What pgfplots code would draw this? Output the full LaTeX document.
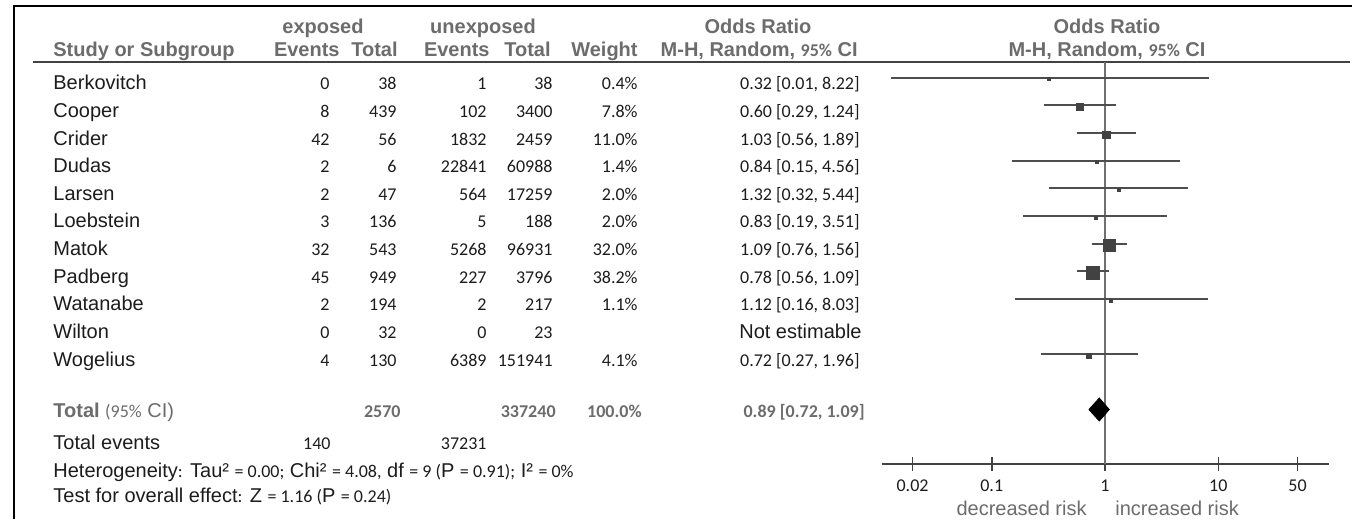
\documentclass[border=0pt]{standalone}
\usepackage{pgfplots}
\pgfplotsset{compat=1.18}
\usepackage{pgfplotstable}
\usepackage{fontspec}
\setmainfont{Liberation Sans}
\newfontfamily\carl{Carlito}

\definecolor{hdr}{RGB}{108,108,108}
\definecolor{txt}{RGB}{28,28,28}
\definecolor{ink}{RGB}{66,66,66}
\definecolor{cil}{RGB}{78,78,78}
\definecolor{refline}{RGB}{112,112,112}

\newcommand\fname{\fontsize{10}{12}\selectfont}
\newcommand\fhead{\bfseries\fontsize{10}{12}\selectfont}
\newcommand\fnum{\carl\fontsize{9}{11}\selectfont}
\newcommand\fsmall{\carl\fontsize{9}{10}\selectfont}
\newcommand\fticks{\carl\fontsize{9}{10}\selectfont}

\pgfkeys{/pgf/number format/assume math mode=true}

% per-study counts, weight (%) and odds ratio with its 95% CI;
% est=0: no estimate (no events in either arm)
\pgfplotstableread{
pos study      e1  n1   e2    n2     w     or    lo    hi    est
0   Berkovitch 0   38   1     38     0.4   0.32  0.01  8.22  1
1   Cooper     8   439  102   3400   7.8   0.60  0.29  1.24  1
2   Crider     42  56   1832  2459   11.0  1.03  0.56  1.89  1
3   Dudas      2   6    22841 60988  1.4   0.84  0.15  4.56  1
4   Larsen     2   47   564   17259  2.0   1.32  0.32  5.44  1
5   Loebstein  3   136  5     188    2.0   0.83  0.19  3.51  1
6   Matok      32  543  5268  96931  32.0  1.09  0.76  1.56  1
7   Padberg    45  949  227   3796   38.2  0.78  0.56  1.09  1
8   Watanabe   2   194  2     217    1.1   1.12  0.16  8.03  1
9   Wilton     0   32   0     23     0     nan   nan   nan   0
10  Wogelius   4   130  6389  151941 4.1   0.72  0.27  1.96  1
}\studies

% pooled random-effects result
\pgfplotstableread{
e1  n1   e2    n2     w     or    lo    hi
140 2570 37231 337240 100.0 0.89  0.72  1.09
}\pooled

\newcommand\ptab[2]{\pgfplotstablegetelem{0}{#1}\of\pooled\let#2\pgfplotsretval}
\ptab{e1}\pea \ptab{n1}\pna \ptab{e2}\peb \ptab{n2}\pnb
\ptab{w}\pw \ptab{or}\por \ptab{lo}\plo \ptab{hi}\phi

\newcommand\ftwo[1]{\pgfmathprintnumber[fixed,fixed zerofill,precision=2]{#1}}
\newcommand\fone[1]{\pgfmathprintnumber[fixed,fixed zerofill,precision=1]{#1}}

\begin{document}
\begin{tikzpicture}[x=0.5pt, y=-0.5pt]
\path[use as bounding box] (0,0) rectangle (1352,519);

% frame and header rule
\draw[black, line width=1pt] (14.3,519) -- (14.3,6.3) -- (1352,6.3);
\draw[ink, line width=0.9pt] (33,62) -- (1350,62);

% column headers
\begin{scope}[every node/.style={text=hdr, font=\fhead, inner sep=0pt}]
  \node[anchor=base] at (323,34) {exposed};
  \node[anchor=base] at (483,34) {unexposed};
  \node[anchor=base] at (758,34) {Odds Ratio};
  \node[anchor=base] at (1107,34) {Odds Ratio};
  \node[anchor=base west] at (53,57) {Study or Subgroup};
  \node[anchor=base east] at (340,57) {Events};
  \node[anchor=base east] at (398,57) {Total};
  \node[anchor=base east] at (490,57) {Events};
  \node[anchor=base east] at (551,57) {Total};
  \node[anchor=base east] at (638,57) {Weight};
  \node[anchor=base east] at (858,57) {M-H, Random, {\carl\bfseries\fontsize{9}{10}\selectfont 95\%} CI};
  \node[anchor=base] at (1107,57) {M-H, Random, {\carl\bfseries\fontsize{9}{10}\selectfont 95\%} CI};
\end{scope}

% study rows
\foreach \i in {0,...,10}{%
  \pgfmathsetmacro\yb{89.7+27.65*\i}%
  \pgfplotstablegetelem{\i}{study}\of\studies\let\vst\pgfplotsretval
  \pgfplotstablegetelem{\i}{e1}\of\studies\let\vea\pgfplotsretval
  \pgfplotstablegetelem{\i}{n1}\of\studies\let\vna\pgfplotsretval
  \pgfplotstablegetelem{\i}{e2}\of\studies\let\veb\pgfplotsretval
  \pgfplotstablegetelem{\i}{n2}\of\studies\let\vnb\pgfplotsretval
  \pgfplotstablegetelem{\i}{w}\of\studies\let\vw\pgfplotsretval
  \pgfplotstablegetelem{\i}{or}\of\studies\let\vor\pgfplotsretval
  \pgfplotstablegetelem{\i}{lo}\of\studies\let\vlo\pgfplotsretval
  \pgfplotstablegetelem{\i}{hi}\of\studies\let\vhi\pgfplotsretval
  \pgfplotstablegetelem{\i}{est}\of\studies\let\vest\pgfplotsretval
  \begin{scope}[every node/.style={text=txt, font=\fnum, inner sep=0pt, anchor=base east}]
    \node[anchor=base west, font=\fname] at (53,\yb) {\vst};
    \node at (330,\yb) {\vea};
    \node at (397,\yb) {\vna};
    \node at (487,\yb) {\veb};
    \node at (553,\yb) {\vnb};
    \ifnum\vest=1
      \node at (638,\yb) {\fone{\vw}\%};
      \node at (860,\yb) {\ftwo{\vor} [\ftwo{\vlo}, \ftwo{\vhi}]};
    \else
      \node[font=\fname] at (862,\yb) {Not estimable};
    \fi
  \end{scope}
}

% pooled row and footer
\begin{scope}[every node/.style={inner sep=0pt}]
  \node[anchor=base west, text=hdr, font=\fname] at (53,417)
    {\textbf{Total} {\fsmall(95\%} CI)};
  \begin{scope}[every node/.style={inner sep=0pt, anchor=base east, text=hdr,
      font=\carl\bfseries\fontsize{9}{11}\selectfont}]
    \node at (401,417) {\pna};
    \node at (556,417) {\pnb};
    \node at (642,417) {\fone{\pw}\%};
    \node at (865,417) {\ftwo{\por} [\ftwo{\plo}, \ftwo{\phi}]};
  \end{scope}
  \node[anchor=base west, text=txt, font=\fname] at (53,449) {Total events};
  \node[anchor=base east, text=txt, font=\fnum] at (331,449) {\pea};
  \node[anchor=base east, text=txt, font=\fnum] at (487,449) {\peb};
  \node[anchor=base west, text=txt, font=\fname] at (53,477)
    {Heterogeneity{\fsmall:} Tau² {\fsmall= 0.00;} Chi² {\fsmall= 4.08,} df {\fsmall= 9 (}P {\fsmall= 0.91);} I² {\fsmall= 0\%}};
  \node[anchor=base west, text=txt, font=\fname] at (53,502)
    {Test for overall effect{\fsmall:} Z {\fsmall= 1.16 (}P {\fsmall= 0.24)}};
  \node[anchor=base east, text=hdr, font=\fname] at (1087,515) {decreased risk};
  \node[anchor=base west, text=hdr, font=\fname] at (1115,515) {increased risk};
\end{scope}

% forest plot: one row per study, rows counted downwards from 0
\begin{axis}[
  at={(445.5pt,-232pt)}, anchor=south west,
  scale only axis, width=219pt, height=201pt,
  xmode=log, xmin=0.01291, xmax=94.84,
  ymin=-13.97, ymax=0.568,
  axis x line*=bottom, axis y line=none,
  x axis line style={draw=ink, line width=0.8pt, -, shorten <=-4.65pt},
  xtick={0.02,0.1,1,10,50}, xticklabels={0.02,0.1,1,10,50},
  xminorticks=false, ytick=\empty,
  tick align=center, major tick length=6.7pt,
  tick style={draw=ink, line width=0.8pt},
  xticklabel style={font=\fticks, text=txt, yshift=-1pt},
  clip=true,
]
  % line of no effect
  \addplot[refline, line width=1pt] coordinates {(1,-13.97) (1,0.568)};
  % confidence intervals
  \pgfplotsinvokeforeach{0,1,2,3,4,5,6,7,8,10}{
    \pgfplotstablegetelem{#1}{lo}\of\studies\let\clo\pgfplotsretval
    \pgfplotstablegetelem{#1}{hi}\of\studies\let\cihi\pgfplotsretval
    \edef\ciplot{\noexpand\addplot[cil, line width=0.9pt]
      coordinates {(\clo,-#1) (\cihi,-#1)};}
    \ciplot
  }
  % point estimates, square area following the weight
  \addplot[only marks, mark=square*, scatter, point meta=explicit,
    visualization depends on={max(0.75,0.55*sqrt(\thisrow{w}))\as\msz},
    scatter/use mapped color={draw=ink, fill=ink},
    scatter/@pre marker code/.append style={/tikz/mark size=\msz, /tikz/yshift=-0.8pt}]
    table[x=or, y expr=-\thisrow{pos}, meta=w] {\studies};
  % pooled estimate
  \addplot[fill=black, draw=black, line width=0.4pt]
    coordinates {(\plo,-12) (\por,-11.584) (\phi,-12) (\por,-12.416) (\plo,-12)};
\end{axis}
\end{tikzpicture}
\end{document}
